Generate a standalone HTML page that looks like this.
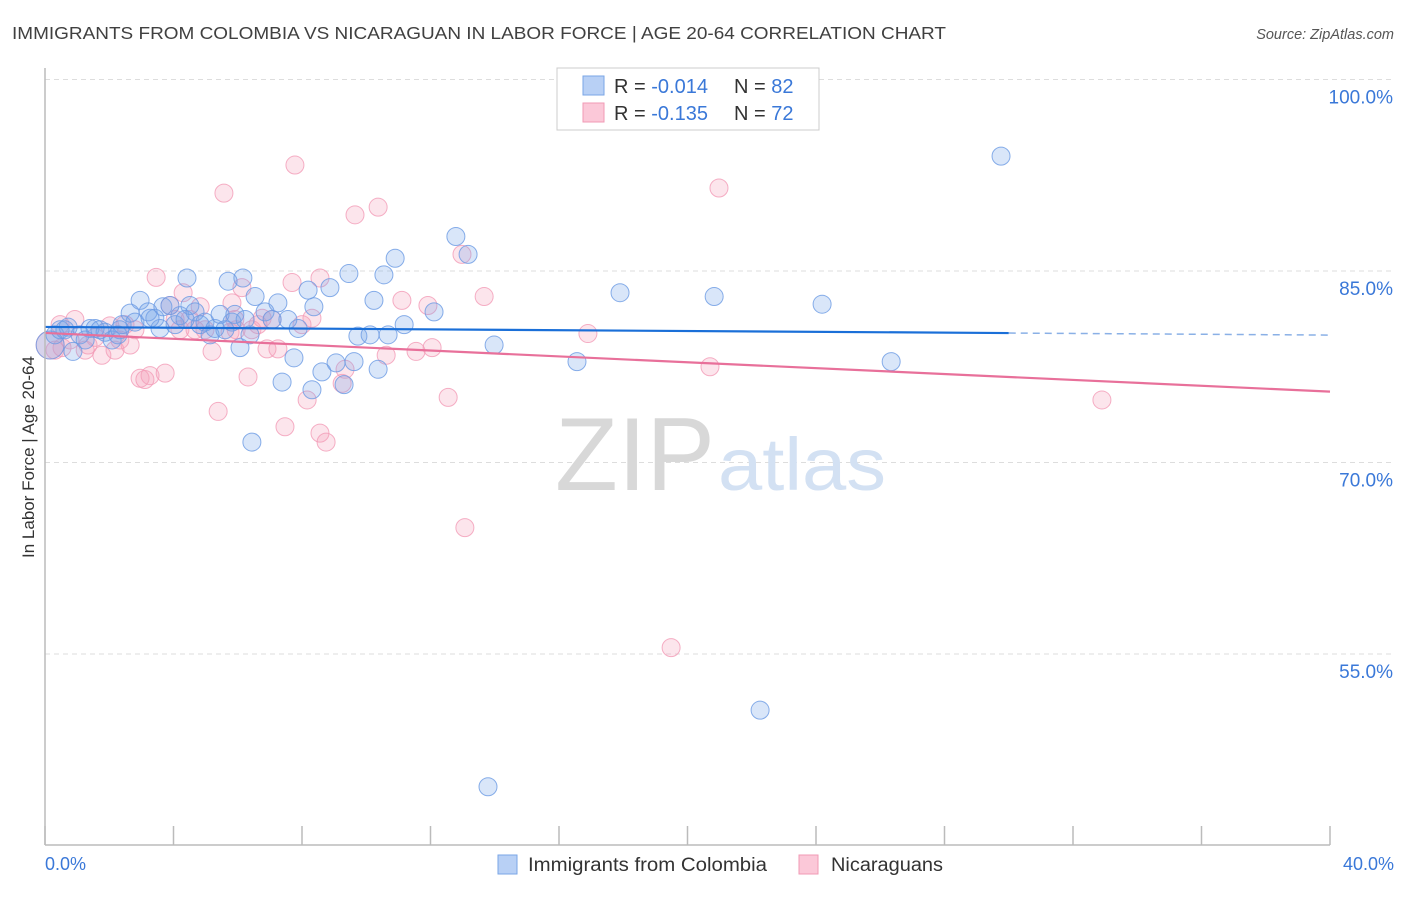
<!DOCTYPE html>
<html><head><meta charset="utf-8"><style>
body{margin:0;background:#fff;font-family:"Liberation Sans",sans-serif;}
svg text{font-family:"Liberation Sans",sans-serif;}
</style></head><body>
<svg id="chart" width="1406" height="892">
<text x="12" y="39" font-size="17.5" fill="#404040" textLength="934" lengthAdjust="spacingAndGlyphs">IMMIGRANTS FROM COLOMBIA VS NICARAGUAN IN LABOR FORCE | AGE 20-64 CORRELATION CHART</text>
<text x="1394" y="39" font-size="14.5" fill="#555" font-style="italic" text-anchor="end">Source: ZipAtlas.com</text>
<g id="grid"></g>
<text x="555" y="490" font-size="104" fill="#d8d8d8" textLength="160" lengthAdjust="spacingAndGlyphs" font-family="Liberation Serif">ZIP</text>
<text x="718" y="490" font-size="74" fill="#d3e1f3" textLength="168" lengthAdjust="spacingAndGlyphs">atlas</text>
<g id="marks"></g>
<line x1="45" y1="68" x2="45" y2="845" stroke="#bbb" stroke-width="1.5"/>
<line x1="45" y1="845" x2="1330" y2="845" stroke="#bbb" stroke-width="1.5"/>
<text transform="translate(34,457) rotate(-90)" font-size="17" fill="#333" text-anchor="middle">In Labor Force | Age 20-64</text>
<g>
<rect x="557" y="68" width="262" height="62" fill="#fff" stroke="#ccc"/>
<rect x="583" y="76" width="21" height="19" fill="#b8d0f5" stroke="#7aa6e6"/>
<rect x="583" y="103" width="21" height="19" fill="#fbc8d8" stroke="#f09ab5"/>
<text x="614" y="93" font-size="20" fill="#333">R = <tspan fill="#3a78d8">-0.014</tspan></text>
<text x="734" y="93" font-size="20" fill="#333">N = <tspan fill="#3a78d8">82</tspan></text>
<text x="614" y="120" font-size="20" fill="#333">R = <tspan fill="#3a78d8"> -0.135</tspan></text>
<text x="734" y="120" font-size="20" fill="#333">N = <tspan fill="#3a78d8">72</tspan></text>
</g>
<g>
<rect x="498" y="855" width="19" height="19" fill="#b8d0f5" stroke="#7aa6e6"/>
<text x="528" y="871" font-size="19" fill="#333" textLength="239" lengthAdjust="spacingAndGlyphs">Immigrants from Colombia</text>
<rect x="799" y="855" width="19" height="19" fill="#fbc8d8" stroke="#f09ab5"/>
<text x="831" y="871" font-size="19" fill="#333" textLength="112" lengthAdjust="spacingAndGlyphs">Nicaraguans</text>
</g>
</svg>
<script>
const yTicks=[100,85,70,55];
const yTickLabels=["100.0%","85.0%","70.0%","55.0%"];
const xTickLabels=["0.0%","40.0%"];
const blueX=[.16,.31,.47,.72,.87,1.09,1.40,1.56,1.87,2.09,2.27,2.40,2.65,2.80,2.96,3.21,3.42,3.58,3.67,3.89,4.05,4.20,4.42,4.51,4.67,4.83,4.98,5.14,5.29,5.45,5.70,5.82,5.91,6.07,6.16,6.38,6.54,6.44,6.85,7.07,7.25,7.38,7.56,7.75,7.88,8.19,8.31,8.37,8.62,8.87,9.06,9.31,9.46,9.62,9.74,10.12,10.24,10.37,10.55,10.68,10.90,11.18,12.11,12.79,13.17,13.98,13.79,16.56,17.90,20.83,22.26,24.19,26.34,29.76,3.27,2.33,1.71,1.25,6.23,4.36,5.60,.62];
const blueY=[79.2,80.0,80.4,80.6,78.7,80.0,80.5,80.5,80.2,79.6,80.0,80.8,81.7,81.0,82.7,81.8,81.3,80.5,82.2,82.3,80.8,81.5,84.45,82.3,81.8,80.8,81.0,80.0,80.5,81.6,84.2,81.0,81.6,79.0,84.45,80.0,83.0,71.6,81.8,81.2,82.5,76.3,81.2,78.2,80.5,83.5,75.7,82.2,77.1,83.7,77.8,76.1,84.8,77.9,79.9,80.0,82.7,77.3,84.7,80.0,86.0,80.8,81.8,87.7,86.3,79.2,44.6,77.9,83.3,83.0,50.6,82.4,77.9,94.0,81.3,80.4,80.4,79.6,81.2,81.2,80.4,80.4];
const pinkX=[.16,.31,.53,.78,.93,1.25,1.56,1.77,2.02,2.18,2.49,2.65,2.96,3.11,3.27,3.46,3.74,3.89,4.20,4.30,4.51,4.83,4.98,5.20,5.39,5.57,5.82,5.95,6.13,6.32,6.44,6.63,6.76,6.91,7.07,7.25,7.47,7.69,7.78,8.00,8.16,8.31,8.56,8.56,8.75,9.25,9.34,9.65,10.37,10.62,11.11,11.55,11.92,12.05,12.55,12.98,13.07,13.67,16.90,19.49,20.70,20.98,32.90,.47,2.33,2.80,4.05,4.67,5.91,1.34,5.76];
const pinkY=[79.2,78.8,79.0,79.6,81.2,78.8,79.8,78.4,80.7,78.8,80.8,79.2,76.6,76.5,76.8,84.5,77.0,82.3,80.4,83.3,81.2,82.2,80.4,78.7,74.0,91.1,82.5,80.4,83.7,76.7,80.4,80.8,81.3,78.9,81.2,78.9,72.8,84.1,93.3,80.8,74.9,81.3,84.45,72.3,71.6,76.2,77.3,89.4,90.0,78.4,82.7,78.7,82.3,79.0,75.1,86.3,64.9,83.0,80.1,55.5,77.5,91.5,74.9,80.8,79.6,80.4,81.2,80.4,81.2,79.2,80.2];
const blueTrend=[80.62,79.98];
const pinkTrend=[80.15,75.55];
const NS="http://www.w3.org/2000/svg";
const xs=v=>45+v/40*1285;
const ys=v=>79.5+(100-v)/15*191.5;
const grid=document.getElementById('grid'),marks=document.getElementById('marks');
function mk(tag,attrs,parent){const e=document.createElementNS(NS,tag);for(const k in attrs)e.setAttribute(k,attrs[k]);parent.appendChild(e);return e;}
yTicks.forEach((t,i)=>{
 const l=mk('line',{x1:45,x2:1394,y1:ys(t),y2:ys(t),stroke:'#ddd','stroke-dasharray':'5,4'},grid);
 
 
 const tx=mk('text',{x:1393,y:ys(t)+24,'font-size':19,fill:'#3a78d8','text-anchor':'end'},grid);
 tx.textContent=yTickLabels[i];
 
 
});
for(let i=0;i<=10;i++){
 const l=mk('line',{x1:xs(i*4),x2:xs(i*4),y1:826,y2:845,stroke:'#bbb','stroke-width':1.5},grid);
 
 
}
[[0,45,'start'],[40,1394,'end']].forEach((d,i)=>{
 const tx=mk('text',{x:d[1],y:870,'font-size':18,fill:'#3a78d8','text-anchor':d[2]},grid);
 tx.textContent=xTickLabels[i];
 
 
});
function pts(X,Y,fill,stroke,name){
 X.forEach((x,i)=>{
  const c=mk('circle',{cx:xs(x),cy:ys(Y[i]),r:(i===0?14:9),fill:fill,stroke:stroke,'stroke-width':1,'stroke-opacity':0.8},marks);
  
  
 });
}
pts(pinkX,pinkY,'rgba(245,160,185,0.28)','#f29bb7','nicaraguan-point');
pts(blueX,blueY,'rgba(120,165,235,0.28)','#6a9ae3','colombia-point');
const bl=mk('line',{x1:xs(0),y1:ys(blueTrend[0]),x2:xs(30),y2:ys(blueTrend[0]+(blueTrend[1]-blueTrend[0])*0.75),stroke:'#1a6fd8','stroke-width':2.2},marks);


const bd=mk('line',{x1:xs(30),y1:ys(blueTrend[0]+(blueTrend[1]-blueTrend[0])*0.75),x2:xs(40),y2:ys(blueTrend[1]),stroke:'#8ab0e6','stroke-width':1.5,'stroke-dasharray':'7,5'},marks);


const pl=mk('line',{x1:xs(0),y1:ys(pinkTrend[0]),x2:xs(40),y2:ys(pinkTrend[1]),stroke:'#e8709a','stroke-width':2.2},marks);


</script>
</body></html>
